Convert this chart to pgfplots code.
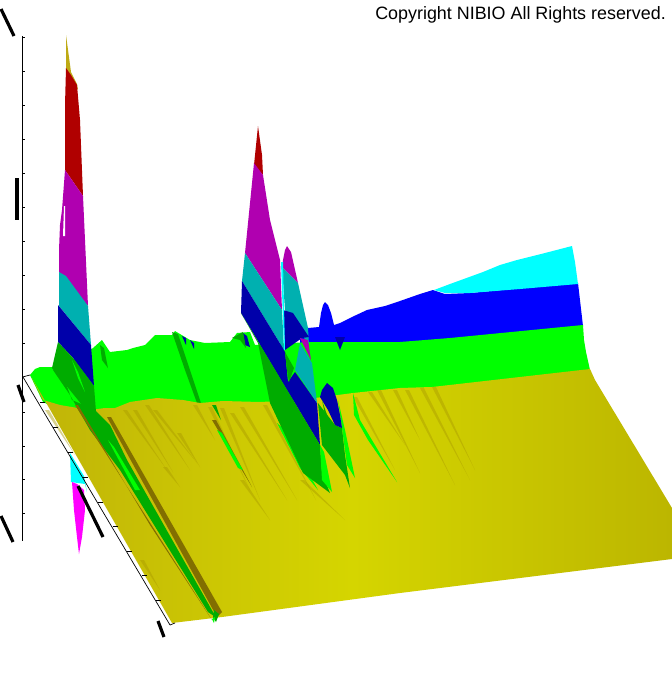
\documentclass[border=0pt]{standalone}
\usepackage{pgfplots}
\usepackage{fontspec}
\setmainfont{Liberation Sans}
\pgfplotsset{compat=1.18}
\definecolor{cG}{RGB}{0,255,0}\definecolor{cB}{RGB}{0,0,255}\definecolor{cC}{RGB}{0,255,255}
\definecolor{dG}{RGB}{0,172,0}\definecolor{dB}{RGB}{0,0,170}\definecolor{dT}{RGB}{0,176,176}
\definecolor{dM}{RGB}{176,0,176}\definecolor{dR}{RGB}{176,0,0}\definecolor{dO}{RGB}{190,170,20}
\definecolor{cM}{RGB}{255,0,255}\definecolor{st}{RGB}{130,110,0}\definecolor{st2}{RGB}{170,155,0}
\definecolor{yL}{RGB}{192,180,8}\definecolor{yM}{RGB}{213,213,0}\definecolor{yR}{RGB}{188,182,0}
\newcommand\poly[2]{\addplot[fill=#1,draw=none,forget plot] coordinates {#2} -- cycle;}
\newcommand\streak[4]{\addplot[fill=st2,draw=none,forget plot,opacity=0.45] coordinates {(#1,#2) (#1+4,#2) (#3,#4)} -- cycle;}
\newcommand\ax[1]{\addplot[black,line width=0.7pt,forget plot] coordinates {#1};}
\newcommand\blob[1]{\addplot[black,line width=3.2pt,forget plot] coordinates {#1};}
\begin{document}
\begin{tikzpicture}
\begin{axis}[scale only axis,width=672pt,height=673pt,xmin=0,xmax=672,ymin=0,ymax=673,y dir=reverse,hide axis,clip=true]
\poly{white}{(0,0)(672,0)(672,673)(0,673)}
% cyan and magenta seen below the floor
\poly{cC}{(70,453)(71,482)(85,484)(87,492)(84,476)}
\poly{cM}{(72,482)(74,510)(77,537)(79,554)(82,537)(85,510)(84,490)(77,484)}
% back wall
\poly{cB}{(300,330)(308,328)(319,327)(321,313)(323,305)(325,302)(328,305)(331,313)(334,325)(340,323)(352,317)(367,310)(385,306)(400,301)(420,294)(433,290)(445,294)(470,293)(578,283)(583,326)(400,350)(300,350)}
\poly{cC}{(434,290)(450,284)(483,272)(500,265)(517,260)(545,253)(572,246)(575,262)(578,284)(520,289)(470,293)(445,293)}
\poly{cG}{(30,375)(35,369)(40,367)(52,367)(60,368)(90,350)(93,348)(102,340)(110,352)(127,350)(133,348)(145,345)(155,335)(172,335)(175,331)(190,340)(205,343)(230,342)(237,333)(250,332)(255,345)(310,342)(340,342)(400,342)(450,338)(583,325)(584,340)(586,352)(590,370)(590,400)(240,420)(60,410)(43,402)}
\poly{dG}{(172,332)(178,334)(190,370)(201,403)(197,403)(185,370)}
\poly{dG}{(100,345)(104,348)(108,368)(102,360)}
\poly{dB}{(182,336)(186,338)(186,345)}
\poly{dB}{(190,340)(194,343)(194,349)}
\poly{dB}{(243,333)(247,336)(250,347)(245,345)}
\poly{dG}{(232,338)(243,332)(246,348)(240,340)}
% floor
\addplot[shade,left color=yL,right color=yR,middle color=yM,draw=none,forget plot] coordinates {(32,378)(43,400)(60,405)(90,410)(105,408)(115,408)(130,402)(157,398)(183,400)(200,403)(223,401)(260,402)(300,400)(353,393)(400,388)(432,387)(590,369)(595,380)(672,508)(672,559)(400,593)(222,617)(172,623)} -- cycle;
% streaks on the floor
\streak{123}{410}{167}{470}\streak{133}{410}{173}{472}\streak{153}{410}{197}{463}\streak{177}{433}{200}{467}
\streak{163}{467}{180}{487}\streak{193}{405}{215}{440}\streak{208}{407}{250}{490}\streak{220}{408}{260}{500}
\streak{230}{413}{287}{500}\streak{240}{407}{297}{500}\streak{263}{405}{316}{500}\streak{240}{480}{270}{520}
\streak{353}{397}{395}{470}\streak{377}{390}{420}{473}\streak{393}{390}{420}{440}\streak{405}{390}{455}{485}
\streak{420}{388}{470}{480}\streak{432}{387}{475}{470}\streak{300}{480}{345}{520}\streak{45}{410}{75}{455}
\streak{140}{560}{160}{590}\streak{145}{405}{190}{470}\streak{368}{392}{405}{445}
% left strip
\poly{dG}{(53,370)(60,368)(72,400)(95,410)(110,425)(127,460)(213,612)(217,618)(208,612)(120,470)(90,430)(70,395)}
\poly{st}{(107,417)(111,417)(222,612)(217,617)}
\poly{st}{(75,405)(78,405)(150,525)(212,620)(207,612)}
\poly{cG}{(108,440)(114,447)(140,490)(135,490)}
\poly{dG}{(212,405)(216,405)(221,420)}
\poly{st}{(212,420)(216,420)(252,487)}
\poly{cG}{(217,430)(222,433)(243,470)(238,468)}
\poly{dG}{(214,610)(219,614)(216,622)(213,617)}
\poly{cG}{(215,617)(214,623)(212,619)}
% first peak
\poly{dO}{(66,35)(71,72)(77,84)(78,90)(66,70)}
\poly{dR}{(66,68)(71,75)(77,85)(80,120)(83,196)(65,170)(65,105)}
\poly{dM}{(65,170)(83,196)(88,306)(59,272)(59,250)(60,225)(62,210)}
\poly{white}{(64,206)(65,206)(65,236)(63,236)}
\poly{dT}{(59,272)(66,276)(88,306)(91,345)(59,306)}
\poly{dB}{(58,305)(91,345)(94,386)(73,358)(58,342)}
\poly{dG}{(58,342)(73,358)(94,386)(97,425)(78,400)(52,368)}
\poly{cG}{(72,360)(78,372)(85,392)(78,378)}
% second peak behind
\poly{dM}{(283,260)(285,250)(287,246)(291,252)(298,283)(282,267)}
\poly{dT}{(282,267)(298,283)(308,328)(309,345)(293,322)(285,310)}
\poly{dB}{(283,310)(293,313)(309,337)(302,338)(285,350)}
% green under second peak, right
\poly{dG}{(318,403)(335,425)(342,428)(345,455)(350,488)(345,475)(322,445)}
\poly{cG}{(338,400)(345,430)(355,478)(347,465)(342,428)}
\poly{cG}{(353,393)(360,420)(397,482)(368,440)(354,415)}
\poly{cG}{(277,423)(285,430)(318,490)(300,468)}
% main second peak
\poly{dR}{(258,126)(262,155)(263,175)(254,165)}
\poly{dM}{(254,163)(263,175)(270,220)(280,260)(282,310)(245,253)}
\poly{dT}{(245,253)(282,310)(284,350)(242,281)}
\poly{dB}{(242,281)(284,350)(285,352)(288,382)(295,372)(317,403)(320,445)(241,313)}
\poly{cC}{(281,262)(283,262)(285,350)(284,350)}
\poly{dG}{(241,313)(320,445)(322,473)(330,493)(303,473)(270,403)(258,343)}
\poly{cG}{(320,445)(324,452)(332,492)(322,480)}
\poly{dG}{(285,352)(294,368)(289,382)(287,370)}
\poly{dT}{(300,343)(312,363)(317,403)(295,370)}
\poly{dM}{(300,338)(308,340)(311,360)}
\poly{dB}{(335,337)(345,337)(340,350)}
\poly{dB}{(327,383)(333,388)(337,400)(340,415)(342,428)(335,425)(328,410)(320,397)(322,390)}
\poly{dG}{(322,400)(326,412)(334,432)(325,415)}
% axes
\ax{(22.5,36)(22.5,541)}
\ax{(22.5,377)(30,375)}
\ax{(23,377)(170,625)}
\ax{(170,625)(175,623)}
\ax{(22.5,37)(25,37)}\ax{(22.5,71)(25,71)}\ax{(22.5,105)(25,105)}\ax{(22.5,139)(25,139)}\ax{(22.5,173)(25,173)}
\ax{(22.5,207)(25,207)}\ax{(22.5,241)(25,241)}\ax{(22.5,275)(25,275)}\ax{(22.5,309)(25,309)}\ax{(22.5,343)(25,343)}
\ax{(22.5,412)(25,412)}\ax{(22.5,446)(25,446)}\ax{(22.5,479)(25,479)}\ax{(22.5,513)(25,513)}
\ax{(40,402)(45,402)}\ax{(53,427)(58,427)}\ax{(68,452)(73,452)}\ax{(83,477)(88,477)}\ax{(98,502)(103,502)}
\ax{(113,526)(118,526)}\ax{(127,551)(132,551)}\ax{(142,575)(147,575)}\ax{(156,600)(161,600)}
% illegible tick and axis captions, seen as dark marks
\blob{(1,9)(14,36)}
\blob{(17,178)(17,220)}
\blob{(18,385)(24,402)}
\blob{(1,516)(13,542)}
\blob{(78,486)(103,537)}
\blob{(158,621)(164,637)}
\node[anchor=base east,inner sep=0pt,font=\fontsize{17.9}{20}\selectfont] at (axis cs:666,19) {Copyright NIBIO All Rights reserved.};
\end{axis}
\end{tikzpicture}
\end{document}
